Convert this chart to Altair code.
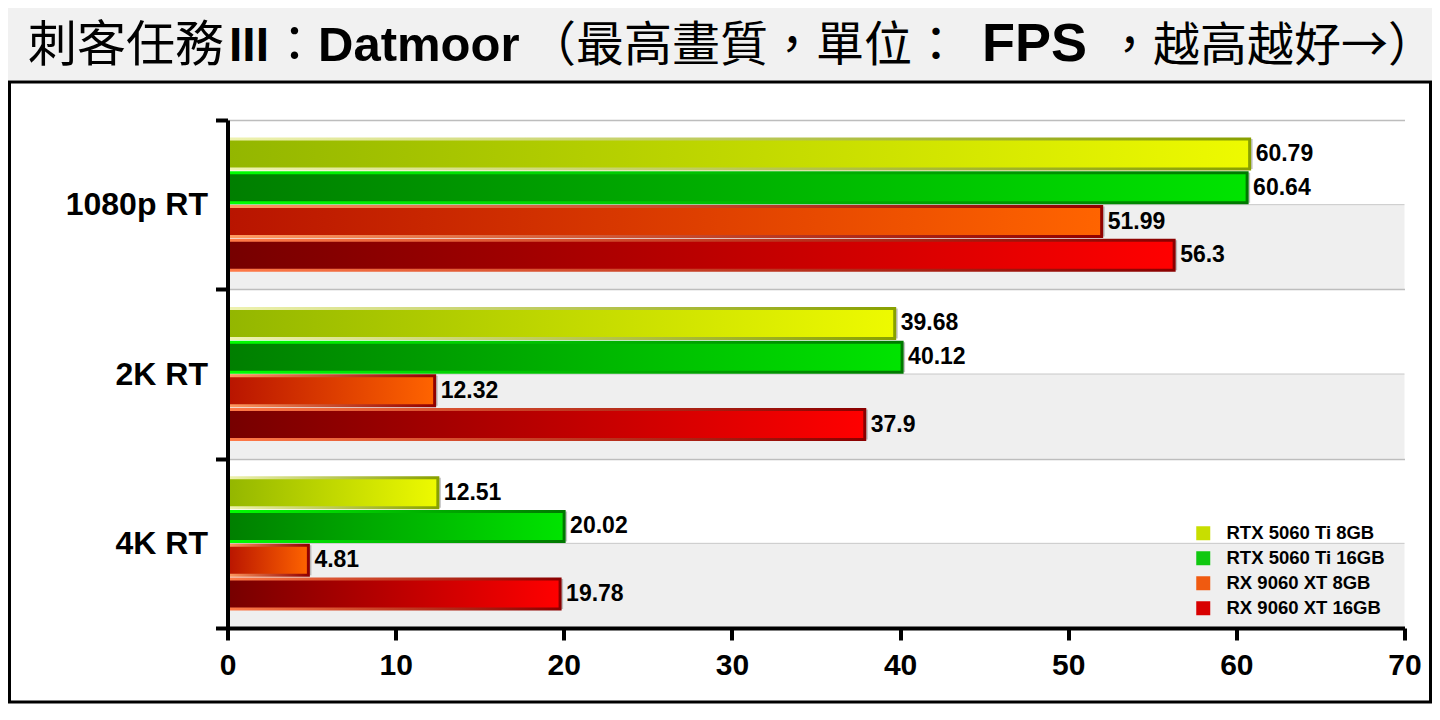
import altair as alt
import pandas as pd

categories = ["1080p RT", "2K RT", "4K RT"]
series = ["RTX 5060 Ti 8GB", "RTX 5060 Ti 16GB", "RX 9060 XT 8GB", "RX 9060 XT 16GB"]
rtx_8gb = [60.79, 39.68, 12.51]
rtx_16gb = [60.64, 40.12, 20.02]
rx_8gb = [51.99, 12.32, 4.81]
rx_16gb = [56.3, 37.9, 19.78]
x_ticks = [0, 10, 20, 30, 40, 50, 60, 70]

stripe_lo = [0, 2, 4]
stripe_hi = [1, 3, 5]

fill_stops = [("#93b600", "#eefa00"), ("#007e00", "#00e400"),
              ("#b81400", "#ff6400"), ("#760000", "#ff0000")]
stroke_stops = [("#eef2b0", "#88a000"), ("#00ff00", "#007800"),
                ("#ff9a60", "#900000"), ("#ff7a48", "#8a0000")]
legend_colors = ["#c8de00", "#10c810", "#f05a10", "#d80000"]

rows = []
for s, vals in zip(series, [rtx_8gb, rtx_16gb, rx_8gb, rx_16gb]):
    for c, v in zip(categories, vals):
        rows.append({"cat": c, "series": s, "value": v, "label": str(v)})
df = pd.DataFrame(rows)

TOTAL_W, TOTAL_H = 1424, 696
PL, PT = 219.5, 112
W, H = 1177, 508


def X(r):
    return round(r - 8 - PL, 1)


def Y(r):
    return round(r - 8 - PT, 1)


FONT = "Liberation Sans"
CJK = "Noto Sans CJK TC"
one = pd.DataFrame({"k": [0]})


def grad(c0, c1):
    return alt.Gradient(
        gradient="linear",
        stops=[alt.GradientStop(color=c0, offset=0), alt.GradientStop(color=c1, offset=1)],
        x1=0, x2=1, y1=0, y2=0,
    )


x_enc = alt.X(
    "value:Q",
    scale=alt.Scale(domain=[0, 70], nice=False, zero=True),
    axis=alt.Axis(values=x_ticks, title=None, grid=False, labelFlush=False,
                  labelFont=FONT, labelFontSize=30, labelFontWeight="bold", labelColor="black",
                  labelPadding=10, tickSize=12, tickWidth=4, tickColor="black",
                  domainColor="black", domainWidth=4, zindex=2),
)
y_enc = alt.Y(
    "cat:N", sort=categories,
    scale=alt.Scale(domain=categories, paddingInner=0, paddingOuter=0),
    axis=alt.Axis(title=None, tickBand="extent", grid=True, gridColor="#bdbdbd", gridWidth=1.5,
                  labelFont=FONT, labelFontSize=32, labelFontWeight="bold", labelColor="black",
                  labelPadding=8, tickSize=12, tickWidth=4, tickColor="black",
                  domainColor="black", domainWidth=4, zindex=2),
)
yoff = alt.YOffset("series:N", scale=alt.Scale(domain=series, paddingInner=0.11, paddingOuter=0.566))

base = alt.Chart(df)

shadow = base.mark_bar(color="#7a7a7a", opacity=0.45, xOffset=3, yOffset=4).encode(
    x=x_enc, y=y_enc, yOffset=yoff)

bar_layers = []
for i, s in enumerate(series):
    bar_layers.append(
        base.transform_filter(alt.datum.series == s).mark_bar(
            fill=grad(*fill_stops[i]), stroke=grad(*stroke_stops[i]), strokeWidth=3
        ).encode(x=x_enc, y=y_enc, yOffset=yoff)
    )

labels = base.mark_text(align="left", baseline="middle", dx=6, font=FONT, fontSize=23,
                        fontWeight="bold", color="black").encode(
    x=x_enc, y=y_enc, yOffset=yoff, text="label:N")

legend_layer = base.mark_square(opacity=0, size=10).encode(
    x=x_enc, y=y_enc, yOffset=yoff,
    color=alt.Color("series:N", scale=alt.Scale(domain=series, range=legend_colors),
                    legend=alt.Legend(title=None, orient="none", legendX=X(1194), legendY=Y(524),
                                      symbolType="square", symbolSize=196, symbolOpacity=1,
                                      symbolStrokeWidth=0, labelFont=FONT, labelFontSize=18.5,
                                      labelFontWeight="bold", labelColor="black", labelOffset=14,
                                      rowPadding=6)),
)

main = alt.layer(shadow, *bar_layers, labels, legend_layer)

stripe_df = pd.DataFrame({"lo": stripe_lo, "hi": stripe_hi})
ys = alt.Scale(domain=[0, 6], nice=False, zero=True)
stripes = alt.Chart(stripe_df).mark_rect(color="#efefef").encode(
    x=alt.value(0), x2=alt.value(W),
    y=alt.Y("lo:Q", scale=ys, axis=None), y2="hi:Q")
stripe_lines = alt.Chart(stripe_df).mark_rule(color="#c8c8c8", strokeWidth=1).encode(
    y=alt.Y("hi:Q", scale=ys, axis=None), x=alt.value(0), x2=alt.value(W))
stripe_layer = alt.layer(stripes, stripe_lines)

titlebar = alt.Chart(one).mark_rect(color="#f1f1f1").encode(
    x=alt.value(-PL), x2=alt.value(TOTAL_W - PL), y=alt.value(-PT), y2=alt.value(Y(80)))
box = alt.Chart(one).mark_rect(fill="white", stroke="black", strokeWidth=3).encode(
    x=alt.value(-PL + 1.5), x2=alt.value(TOTAL_W - PL - 1.5),
    y=alt.value(Y(82)), y2=alt.value(TOTAL_H - PT - 2))

# (text, left x in reference pixels, bold latin?, font size)
segments = [("刺客任務", 28, False, 49), ("III", 229, True, 48), ("：", 270, False, 49),
            ("Datmoor", 318, True, 49), ("（最高畫質，單位：", 528, False, 48),
            ("FPS", 982, True, 54), ("，越高越好→）", 1106, False, 47)]
title_layers = []
for txt, xr, bold, fs in segments:
    if bold:
        m = alt.Chart(one).mark_text(text=txt, align="left", baseline="alphabetic", font=FONT,
                                     fontSize=fs, fontWeight="bold", color="black")
    else:
        m = alt.Chart(one).mark_text(text=txt, align="left", baseline="alphabetic", font=CJK,
                                     fontSize=fs, fontWeight="normal", color="black")
    title_layers.append(m.encode(x=alt.value(X(xr)), y=alt.value(Y(61))))

chart = alt.layer(titlebar, box, stripe_layer, main, *title_layers).resolve_scale(
    y="independent"
).properties(
    width=W, height=H,
    padding={"left": PL, "top": PT, "right": TOTAL_W - PL - W, "bottom": TOTAL_H - PT - H},
    autosize=alt.AutoSizeParams(type="none"),
    background="white",
).configure_view(stroke=None)

chart.save("out.html", embed_options={"renderer": "svg", "actions": False})
